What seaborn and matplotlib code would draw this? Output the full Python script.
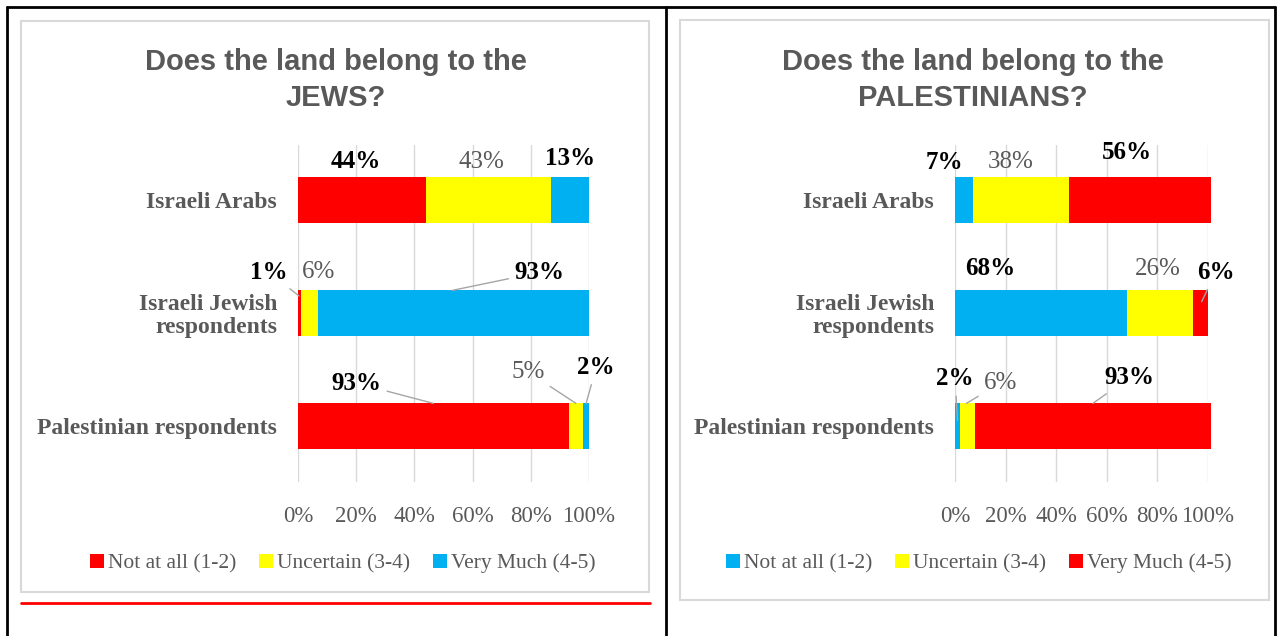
import numpy as np
import pandas as pd
import matplotlib
matplotlib.use("Agg")
import matplotlib.pyplot as plt
from matplotlib.patches import Rectangle
from matplotlib.lines import Line2D
import seaborn as sns

# ---------------- data ----------------
categories = ["Israeli Arabs", "Israeli Jewish\nrespondents", "Palestinian respondents"]
series_names = ["Not at all (1-2)", "Uncertain (3-4)", "Very Much (4-5)"]

jews_not_at_all = [44, 1, 93]
jews_uncertain = [43, 6, 5]
jews_very_much = [13, 93, 2]

pal_not_at_all = [7, 68, 2]
pal_uncertain = [38, 26, 6]
pal_very_much = [56, 6, 93]

tick_values = [0, 20, 40, 60, 80, 100]
titles = ["Does the land belong to the\nJEWS?", "Does the land belong to the\nPALESTINIANS?"]

# ---------------- style ----------------
RED, YEL, BLUE = "#FF0000", "#FFFF00", "#00B0F0"
GRAY = "#595959"
W, H = 1281, 636

sns.set_theme(style="white")
plt.rcParams["font.family"] = ["Liberation Serif", "DejaVu Serif"]

fig = plt.figure(figsize=(W / 100, H / 100), dpi=100)


def fx(x):
    return x / W


def fy(y):
    return 1 - y / H


# frames (table borders, chart boxes)
fig.add_artist(Line2D([fx(7), fx(7)], [fy(7), fy(636)], color="black", lw=2))
fig.add_artist(Line2D([fx(666), fx(666)], [fy(7), fy(636)], color="black", lw=2))
fig.add_artist(Line2D([fx(1275), fx(1275)], [fy(7), fy(636)], color="black", lw=2))
fig.add_artist(Line2D([fx(7), fx(1275)], [fy(7), fy(7)], color="black", lw=2))
fig.add_artist(Rectangle((fx(21), fy(592)), fx(649 - 21), (592 - 21) / H, fill=False,
                         ec="#D9D9D9", lw=1.5, transform=fig.transFigure))
fig.add_artist(Rectangle((fx(680), fy(600)), fx(1269 - 680), (600 - 20) / H, fill=False,
                         ec="#D9D9D9", lw=1.5, transform=fig.transFigure))
fig.add_artist(Line2D([fx(21), fx(650)], [fy(603), fy(603)], color="#FF0000", lw=2))

panels = [
    dict(vals=[jews_not_at_all, jews_uncertain, jews_very_much], colors=[RED, YEL, BLUE],
         ax_px=(298, 589), title_x=336, legend_x=342, title=titles[0],
         # label layout: (x in axis units, y in category units) per row, per series
         lab=[[(0.20, -0.34), (0.63, -0.34), (0.935, -0.37)],
              [(-0.10, 0.64), (0.07, 0.64), (0.83, 0.64)],
              [(0.20, 1.62), (0.79, 1.52), (1.025, 1.48)]],
         lead={(1, 0): (0.004, 0.85), (1, 2): (0.53, 0.8), (2, 0): (0.465, 1.8),
               (2, 1): (0.955, 1.8), (2, 2): (0.99, 1.8)}),
    dict(vals=[pal_not_at_all, pal_uncertain, pal_very_much], colors=[BLUE, YEL, RED],
         ax_px=(955, 1208), title_x=973, legend_x=978, title=titles[1],
         lab=[[(-0.04, -0.33), (0.22, -0.34), (0.68, -0.42)],
              [(0.14, 0.61), (0.80, 0.61), (1.03, 0.64)],
              [(0.0, 1.58), (0.18, 1.62), (0.69, 1.57)]],
         lead={(1, 2): (0.975, 0.9), (2, 0): (0.01, 1.95), (2, 1): (0.045, 1.8),
               (2, 2): (0.545, 1.8)}),
]

for p in panels:
    x0, x1 = p["ax_px"]
    ax = fig.add_axes([fx(x0), fy(482), fx(x1 - x0), (482 - 145) / H])
    vals = np.array(p["vals"], dtype=float) / 100.0
    cum = np.cumsum(vals, axis=0)
    # draw stacked bars: longest cumulative first
    for k in [2, 1, 0]:
        df = pd.DataFrame({"cat": categories, "v": cum[k]})
        sns.barplot(data=df, x="v", y="cat", orient="h", color=p["colors"][k],
                    saturation=1, width=0.4, errorbar=None, linewidth=0, ax=ax)
    for patch in ax.patches:
        patch.set_clip_on(False)
    ax.set_xlim(0, 1)
    ax.set_ylim(2.496, -0.487)
    ax.set_xlabel("")
    ax.set_ylabel("")
    ax.set_xticks(np.array(tick_values) / 100)
    ax.set_xticklabels([f"{t}%" for t in tick_values], fontsize=16.5, color=GRAY)
    ax.tick_params(axis="x", length=0, pad=17)
    ax.tick_params(axis="y", length=0, pad=15)
    for lab in ax.get_yticklabels():
        lab.set_fontsize(17)
        lab.set_fontweight("bold")
        lab.set_color(GRAY)
        lab.set_horizontalalignment("right")
        lab.set_multialignment("right")
        lab.set_linespacing(1.1)
    ax.grid(axis="x", color="#D9D9D9", lw=1)
    ax.grid(axis="y", visible=False)
    ax.set_axisbelow(True)
    for s in ax.spines.values():
        s.set_visible(False)
    ax.patch.set_alpha(0)

    # data labels
    for r in range(3):
        for k in range(3):
            lx, ly = p["lab"][r][k]
            txt = f"{int(p['vals'][k][r])}%"
            if k == 1:
                kw = dict(color=GRAY, fontweight="normal")
            else:
                kw = dict(color="black", fontweight="bold")
            if (r, k) in p["lead"]:
                tx, ty = p["lead"][(r, k)]
                ax.annotate(txt, xy=(tx, ty), xytext=(lx, ly), ha="center", va="center",
                            fontsize=18, annotation_clip=False,
                            arrowprops=dict(arrowstyle="-", color="#A6A6A6", lw=1,
                                            shrinkA=2, shrinkB=0), **kw)
            else:
                ax.text(lx, ly, txt, ha="center", va="center", fontsize=18,
                        clip_on=False, **kw)

    # title
    fig.text(fx(p["title_x"]), fy(80), p["title"], ha="center", va="center",
             fontsize=21, fontweight="bold", color=GRAY, linespacing=1.32,
             family=["Liberation Sans", "DejaVu Sans"])

    # legend
    handles = [Line2D([], [], marker="s", ls="", markersize=10, color=c,
                      markeredgewidth=0) for c in p["colors"]]
    fig.legend(handles, series_names, loc="center", bbox_to_anchor=(fx(p["legend_x"]), fy(563)),
               ncol=3, frameon=False, fontsize=15.5, handletextpad=0.1, columnspacing=1.0,
               handlelength=0.8, labelcolor=GRAY, borderaxespad=0)

fig.savefig("out.png", dpi=100)
